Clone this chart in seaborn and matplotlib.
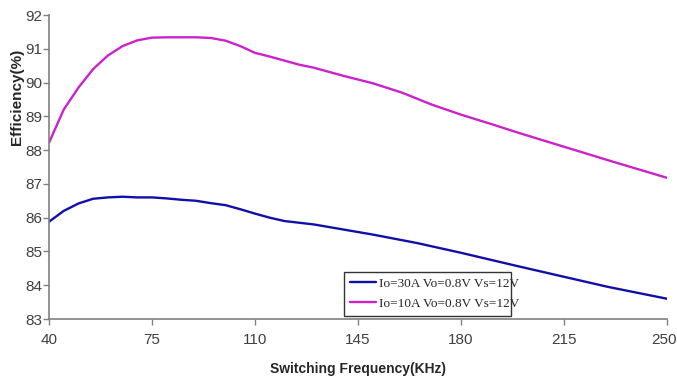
import matplotlib
matplotlib.use("Agg")
import matplotlib.pyplot as plt
import matplotlib.transforms as mtransforms
import seaborn as sns
import pandas as pd

# Efficiency vs switching frequency for two load currents
freq_30a = [40, 45, 50, 55, 60, 65, 70, 75, 80, 85, 90, 95, 100, 105, 110, 115,
            120, 130, 140, 150, 165, 180, 200, 215, 230, 250]
eff_30a = [85.88, 86.20, 86.42, 86.56, 86.60, 86.62, 86.60, 86.60, 86.57, 86.53,
           86.50, 86.43, 86.37, 86.25, 86.12, 86.00, 85.90, 85.80, 85.65, 85.50,
           85.25, 84.96, 84.55, 84.25, 83.95, 83.60]

freq_10a = [40, 45, 50, 55, 60, 65, 70, 75, 80, 85, 90, 95, 100, 105, 110, 115,
            120, 125, 130, 140, 150, 160, 170, 180, 190, 200, 215, 230, 250]
eff_10a = [88.22, 89.20, 89.85, 90.40, 90.80, 91.08, 91.25, 91.33, 91.34, 91.34,
           91.34, 91.32, 91.24, 91.08, 90.88, 90.77, 90.65, 90.53, 90.44, 90.20,
           89.98, 89.70, 89.35, 89.05, 88.78, 88.50, 88.10, 87.70, 87.18]

series_names = ["Io=30A Vo=0.8V Vs=12V", "Io=10A Vo=0.8V Vs=12V"]
x_ticks = [40, 75, 110, 145, 180, 215, 250]
y_ticks = [83, 84, 85, 86, 87, 88, 89, 90, 91, 92]

df = pd.concat([
    pd.DataFrame({"freq": freq_30a, "eff": eff_30a, "series": series_names[0]}),
    pd.DataFrame({"freq": freq_10a, "eff": eff_10a, "series": series_names[1]}),
])

sns.set_style("white")
plt.rcParams["font.family"] = ["Liberation Sans", "DejaVu Sans"]

fig = plt.figure(figsize=(6.77, 3.79), dpi=100)
ax = fig.add_axes([0.0724, 0.1583, 0.9128, 0.8021])

palette = {series_names[0]: "#1010A8", series_names[1]: "#CC22CC"}
sns.lineplot(data=df, x="freq", y="eff", hue="series", palette=palette,
             linewidth=1.7, ax=ax, legend=True)

ax.set_xlim(40, 250)
ax.set_ylim(83, 92)
ax.set_xticks(x_ticks)
ax.set_yticks(y_ticks)
ax.tick_params(axis="both", which="both", direction="out", length=4,
               width=1, color="#808080", labelsize=11, labelcolor="#404040",
               bottom=True, left=True)
ax.tick_params(axis="x", pad=6)
ax.tick_params(axis="y", pad=1)

# nudge the rightmost frequency label so it stays inside the canvas
last = ax.get_xticklabels()[-1]
last.set_transform(last.get_transform() +
                   mtransforms.ScaledTranslation(-3 / 100, 0, fig.dpi_scale_trans))

for side in ["top", "right"]:
    ax.spines[side].set_visible(False)
for side in ["left", "bottom"]:
    ax.spines[side].set_color("#808080")
    ax.spines[side].set_linewidth(1.2)

ax.set_xlabel("Switching Frequency(KHz)", fontsize=10, fontweight="bold")
ax.xaxis.set_label_coords(0.5, -0.14)
ax.set_ylabel("Efficiency(%)", fontsize=11, fontweight="bold")
ax.yaxis.set_label_coords(-0.04, 0.73)

leg = ax.legend(loc="lower left", bbox_to_anchor=(0.477, 0.01, 0.27, 0.158),
                mode="expand", frameon=True, fancybox=False,
                prop={"family": "Liberation Serif", "size": 9.5},
                handlelength=2.0, handletextpad=0.2, borderpad=0.45,
                labelspacing=0.6, borderaxespad=0)
leg.get_frame().set_edgecolor("black")
leg.get_frame().set_linewidth(1.0)
leg.set_title(None)

fig.savefig("out.png", dpi=100)
